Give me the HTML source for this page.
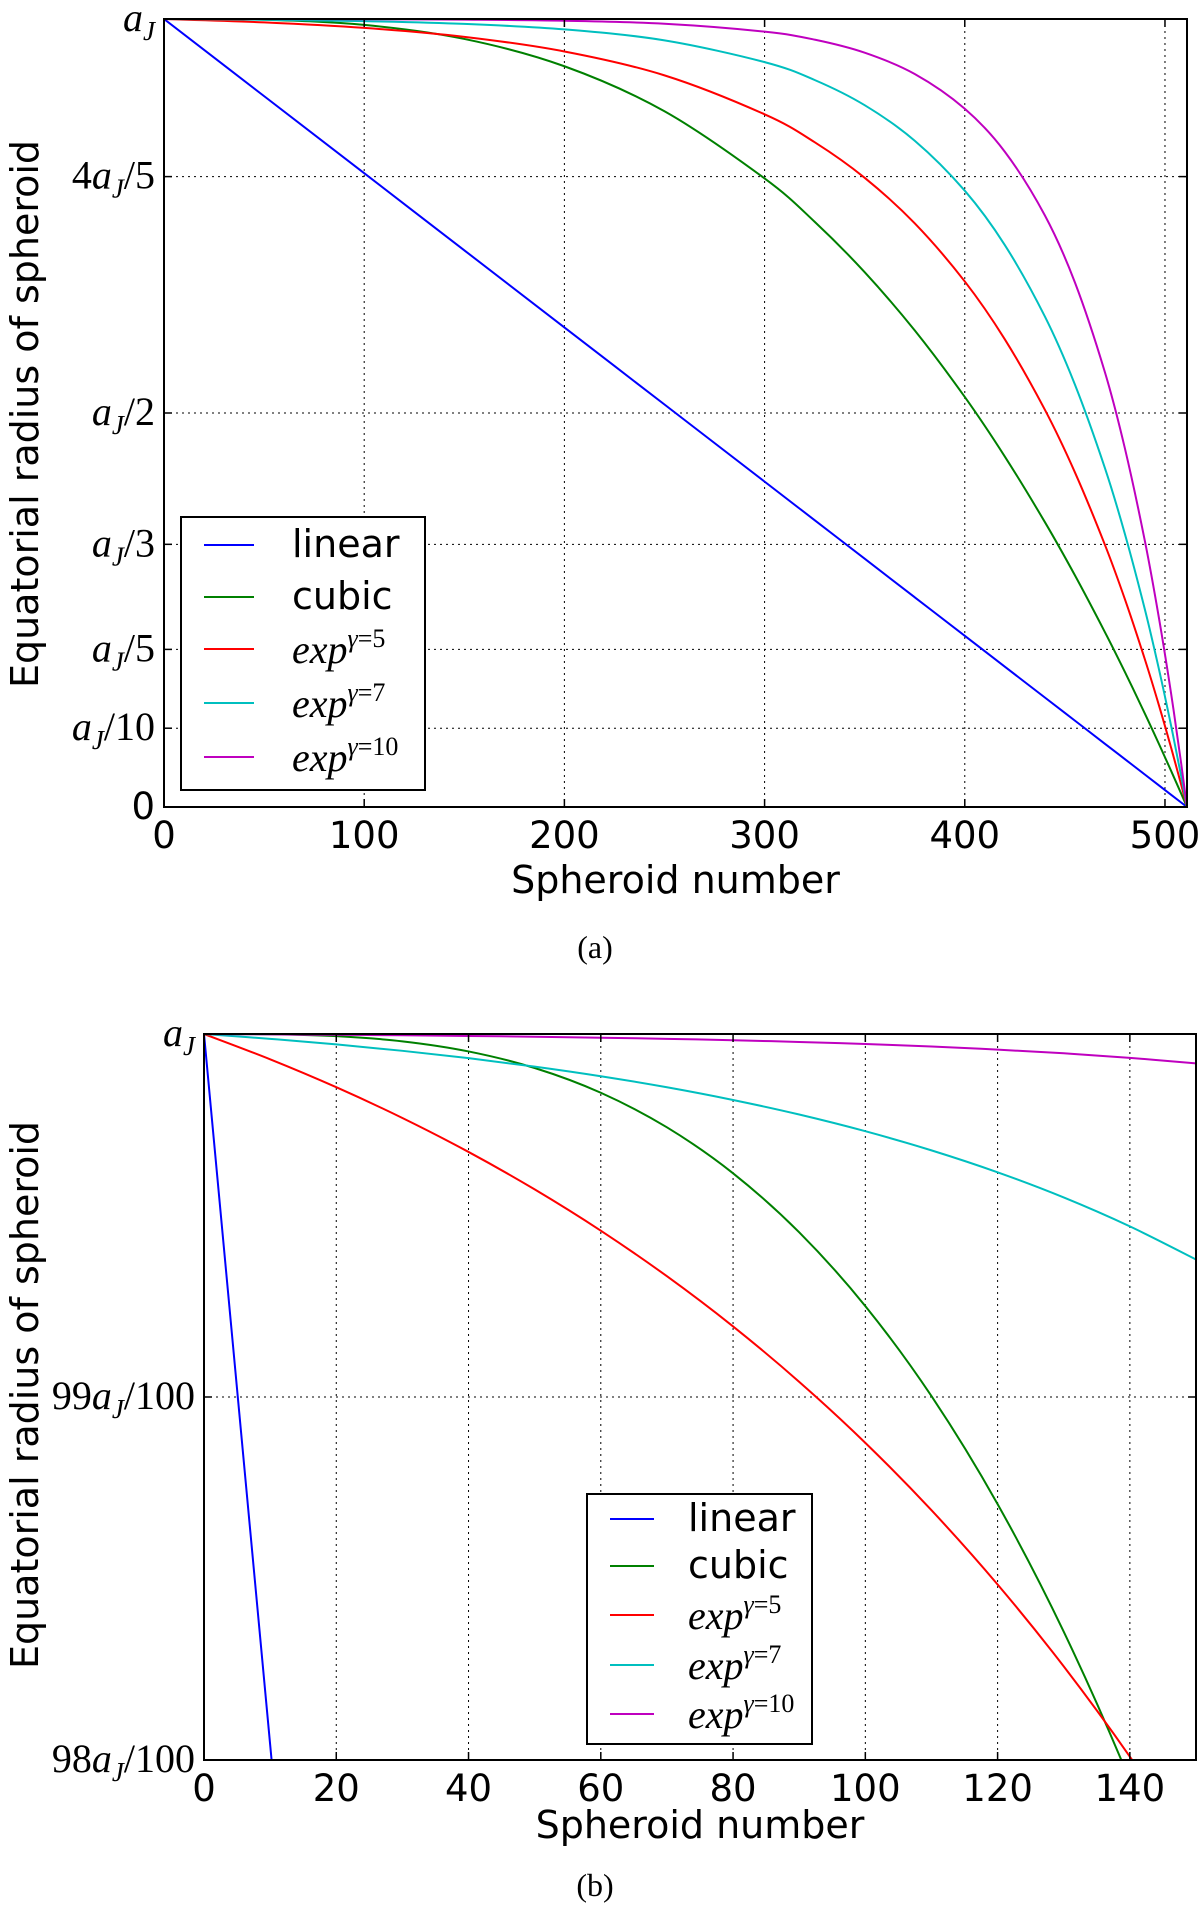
<!DOCTYPE html>
<html><head><meta charset="utf-8"><style>
html,body{margin:0;padding:0;background:#fff;overflow:hidden;width:1200px;height:1913px;}
svg{display:block;}
.tk{font-family:"DejaVu Sans","Liberation Sans",sans-serif;font-size:37px;fill:#000;}
.ml{font-family:"Liberation Serif",serif;font-size:40px;font-style:italic;fill:#000;}
.mn{font-style:normal;}
.lab{font-family:"DejaVu Sans","Liberation Sans",sans-serif;font-size:38px;fill:#000;}
.cap{font-family:"Liberation Serif",serif;font-size:32px;fill:#000;}
</style></head><body>
<svg id="fig" width="1200" height="1913" viewBox="0 0 1200 1913" xmlns="http://www.w3.org/2000/svg">
<defs>
<clipPath id="clipA"><rect x="164" y="19" width="1023" height="788"/></clipPath>
<clipPath id="clipB"><rect x="204" y="1034" width="992" height="726"/></clipPath>
</defs>
<g id="chartA"></g>
<g id="chartB"></g>
</svg>
<script>
// ---- Chart (a) data ----
const xsA = [0,50,100,150,200,250,300,325,350,375,400,420,440,455,470,480,490,497,503,508,511];
const linearA = [1,0.90215,0.80431,0.70646,0.60861,0.51076,0.41292,0.36399,0.31507,0.26614,0.21722,0.17808,0.13894,0.10959,0.08023,0.06067,0.04110,0.02740,0.01566,0.00587,0];
const cubicA = [1,0.99906,0.99251,0.97471,0.94004,0.88290,0.79765,0.74273,0.67868,0.60478,0.52035,0.44475,0.36158,0.29406,0.22189,0.17120,0.11829,0.07996,0.04624,0.01750,0];
const exp5A = [1,0.99572,0.98874,0.97733,0.95878,0.92848,0.87907,0.84365,0.79845,0.74069,0.66696,0.59351,0.50416,0.42476,0.33271,0.26352,0.18702,0.12890,0.07582,0.02917,0];
const exp7A = [1,0.99910,0.99732,0.99379,0.98678,0.97289,0.94531,0.92260,0.89061,0.84554,0.78211,0.71315,0.62249,0.53612,0.43009,0.34632,0.25025,0.17469,0.10391,0.04031,0];
const exp10A = [1,0.99993,0.99973,0.99919,0.99777,0.99399,0.98395,0.97379,0.95722,0.93018,0.88610,0.83156,0.75079,0.66579,0.55173,0.45485,0.33704,0.23966,0.14495,0.05701,0];
const xTicksA = [0,100,200,300,400,500];
const yTickValsA = [1,0.8,0.5,1/3,0.2,0.1,0];
const yTickLabelsA = ["aJ","4aJ/5","aJ/2","aJ/3","aJ/5","aJ/10","0"];
// ---- Chart (b) data ----
const xsB = [0,10,20,30,40,50,60,70,80,90,100,110,120,130,140,150];
const linearBx = [0,10,20];
const linearB = [1,0.98043,0.96086];
const cubicB = [1,0.999993,0.999940,0.999798,0.999520,0.999063,0.998381,0.997429,0.996163,0.994536,0.992505,0.990025,0.987050,0.983535,0.979435,0.974706];
const exp5B = [1,0.999303,0.998534,0.997686,0.996751,0.995719,0.994582,0.993327,0.991944,0.990418,0.988737,0.986881,0.984835,0.982579,0.980092,0.977348];
const exp7B = [1,0.999866,0.999713,0.999537,0.999334,0.999102,0.998837,0.998532,0.998182,0.997782,0.997322,0.996794,0.996190,0.995497,0.994700,0.993789];
const exp10B = [1,0.999990,0.999978,0.999964,0.999946,0.999925,0.999898,0.999867,0.999828,0.999781,0.999724,0.999655,0.999570,0.999468,0.999343,0.999191];
const xTicksB = [0,20,40,60,80,100,120,140];
const yTickValsB = [1,0.99,0.98];
const yTickLabelsB = ["aJ","99aJ/100","98aJ/100"];
const seriesNames = ["linear","cubic","exp5","exp7","exp10"];
const colors = ["#0000ff","#008000","#ff0000","#00bfbf","#bf00bf"];

const NS="http://www.w3.org/2000/svg";
function mk(tag,attrs,parent){const e=document.createElementNS(NS,tag);for(const k in attrs)e.setAttribute(k,attrs[k]);parent.appendChild(e);return e;}

function mathLabel(parent,label,x,y,anchor){
  const t=mk('text',{x:x,y:y,'text-anchor':anchor},parent);
  t.setAttribute('class','ml');
  if(label==="0"){t.setAttribute('class','tk');t.textContent="0";return t;}
  const m=label.match(/^(\d*)aJ(\/\d+)?$/);
  const pre=m[1], post=m[2]||"";
  if(pre){const s=mk('tspan',{},t);s.setAttribute('class','mn');s.textContent=pre;}
  const a=mk('tspan',{},t);a.textContent="a";
  const j=mk('tspan',{dy:9,'font-size':27},t);j.textContent="J";
  if(post){const s=mk('tspan',{dy:-9},t);s.setAttribute('class','mn');s.textContent=post;}
  return t;
}

function smoothPath(pts){
  let d='M'+pts[0][0].toFixed(2)+','+pts[0][1].toFixed(2);
  for(let i=0;i<pts.length-1;i++){
    const p0=pts[i-1]||pts[i],p1=pts[i],p2=pts[i+1],p3=pts[i+2]||p2;
    const c1=[p1[0]+(p2[0]-p0[0])/6,p1[1]+(p2[1]-p0[1])/6];
    const c2=[p2[0]-(p3[0]-p1[0])/6,p2[1]-(p3[1]-p1[1])/6];
    d+=' C'+c1[0].toFixed(2)+','+c1[1].toFixed(2)+' '+c2[0].toFixed(2)+','+c2[1].toFixed(2)+' '+p2[0].toFixed(2)+','+p2[1].toFixed(2);
  }
  return d;
}

function drawChart(g,cfg){
  const X=v=>cfg.x0+(v-cfg.xmin)/(cfg.xmax-cfg.xmin)*(cfg.x1-cfg.x0);
  const Y=v=>cfg.y1-(v-cfg.ymin)/(cfg.ymax-cfg.ymin)*(cfg.y1-cfg.y0);
  cfg.xTicks.forEach(v=>{
    const l=mk('line',{x1:X(v),x2:X(v),y1:cfg.y0,y2:cfg.y1,stroke:'#000','stroke-width':1,'stroke-dasharray':'2,4'},g);
    
    
    const t=mk('text',{x:X(v),y:cfg.y1+41,'text-anchor':'middle'},g);
    t.setAttribute('class','tk');t.textContent=String(v);
    
    
  });
  cfg.yVals.forEach((v,i)=>{
    const l=mk('line',{x1:cfg.x0,x2:cfg.x1,y1:Y(v),y2:Y(v),stroke:'#000','stroke-width':1,'stroke-dasharray':'2,4'},g);
    
    
    const t=mathLabel(g,cfg.yLabels[i],cfg.x0-9,Y(v)+12,'end');
    
    
  });
  const sg=mk('g',{'clip-path':'url(#'+cfg.clip+')'},g);
  cfg.series.forEach((s,i)=>{
    const pts=s.ys.map((v,k)=>[X(s.xs[k]),Y(v)]);
    const p=mk('path',{d:smoothPath(pts),fill:'none',stroke:colors[i],'stroke-width':2,'stroke-linejoin':'round'},sg);
    
    
  });
  const f=mk('rect',{x:cfg.x0,y:cfg.y0,width:cfg.x1-cfg.x0,height:cfg.y1-cfg.y0,fill:'none',stroke:'#000','stroke-width':2},g);
  
  
  cfg.xTicks.forEach(v=>{
    mk('line',{x1:X(v),x2:X(v),y1:cfg.y1,y2:cfg.y1-8,stroke:'#000','stroke-width':1.5},g);
    mk('line',{x1:X(v),x2:X(v),y1:cfg.y0,y2:cfg.y0+8,stroke:'#000','stroke-width':1.5},g);
  });
  cfg.yVals.forEach(v=>{
    mk('line',{x1:cfg.x0,x2:cfg.x0+8,y1:Y(v),y2:Y(v),stroke:'#000','stroke-width':1.5},g);
    mk('line',{x1:cfg.x1,x2:cfg.x1-8,y1:Y(v),y2:Y(v),stroke:'#000','stroke-width':1.5},g);
  });
  const xl=mk('text',{x:(cfg.x0+cfg.x1)/2,y:cfg.xlabY,'text-anchor':'middle'},g);
  xl.setAttribute('class','lab');xl.textContent="Spheroid number";
  
  
  const yl=mk('text',{x:0,y:0,'text-anchor':'middle',transform:'translate(38,'+cfg.ylabY+') rotate(-90)'},g);
  yl.setAttribute('class','lab');yl.textContent="Equatorial radius of spheroid";
  
  
  const cp=mk('text',{x:cfg.capX,y:cfg.capY,'text-anchor':'middle'},g);
  cp.setAttribute('class','cap');cp.textContent=cfg.cap;
  
  
  const L=cfg.leg;
  const lg=mk('g',{},g);
  
  
  mk('rect',{x:L.x,y:L.y,width:L.w,height:L.h,fill:'#fff',stroke:'#000','stroke-width':2},lg);
  const texts=["linear","cubic","5","7","10"];
  texts.forEach((tx,i)=>{
    const yy=L.ys[i];
    const e=mk('g',{},lg);
    
    
    mk('line',{x1:L.lx0,x2:L.lx1,y1:yy,y2:yy,stroke:colors[i],'stroke-width':2},e);
    if(i<2){
      const t=mk('text',{x:L.tx,y:yy+12},e);t.setAttribute('class','lab');t.setAttribute('font-size','35');t.textContent=tx;
    } else {
      const t=mk('text',{x:L.tx,y:yy+14},e);t.setAttribute('class','ml');t.setAttribute('font-size','38');
      const a=mk('tspan',{},t);a.textContent="exp";
      const b=mk('tspan',{dy:-16,'font-size':26},t);b.textContent="γ";
      const c=mk('tspan',{'font-size':26},t);c.setAttribute('class','mn');c.textContent="="+tx;
    }
  });
}

drawChart(document.getElementById('chartA'),{
  x0:164,x1:1187,y0:19,y1:807,xmin:0,xmax:511,ymin:0,ymax:1,clip:'clipA',
  xTicks:xTicksA,yVals:yTickValsA,yLabels:yTickLabelsA,
  series:[{xs:xsA,ys:linearA},{xs:xsA,ys:cubicA},{xs:xsA,ys:exp5A},{xs:xsA,ys:exp7A},{xs:xsA,ys:exp10A}],
  xlabY:893,ylabY:414,cap:"(a)",capX:595,capY:958,
  leg:{x:181,y:517,w:244,h:273,ys:[545,597,649,703,757],lx0:204,lx1:254,tx:292}
});
drawChart(document.getElementById('chartB'),{
  x0:204,x1:1196,y0:1034,y1:1760,xmin:0,xmax:150,ymin:0.98,ymax:1,clip:'clipB',
  xTicks:xTicksB,yVals:yTickValsB,yLabels:yTickLabelsB,
  series:[{xs:linearBx,ys:linearB},{xs:xsB,ys:cubicB},{xs:xsB,ys:exp5B},{xs:xsB,ys:exp7B},{xs:xsB,ys:exp10B}],
  xlabY:1838,ylabY:1395,cap:"(b)",capX:595,capY:1896,
  leg:{x:587,y:1494,w:225,h:250,ys:[1519,1566,1615,1665,1714],lx0:610,lx1:654,tx:688}
});
</script>
</body></html>
